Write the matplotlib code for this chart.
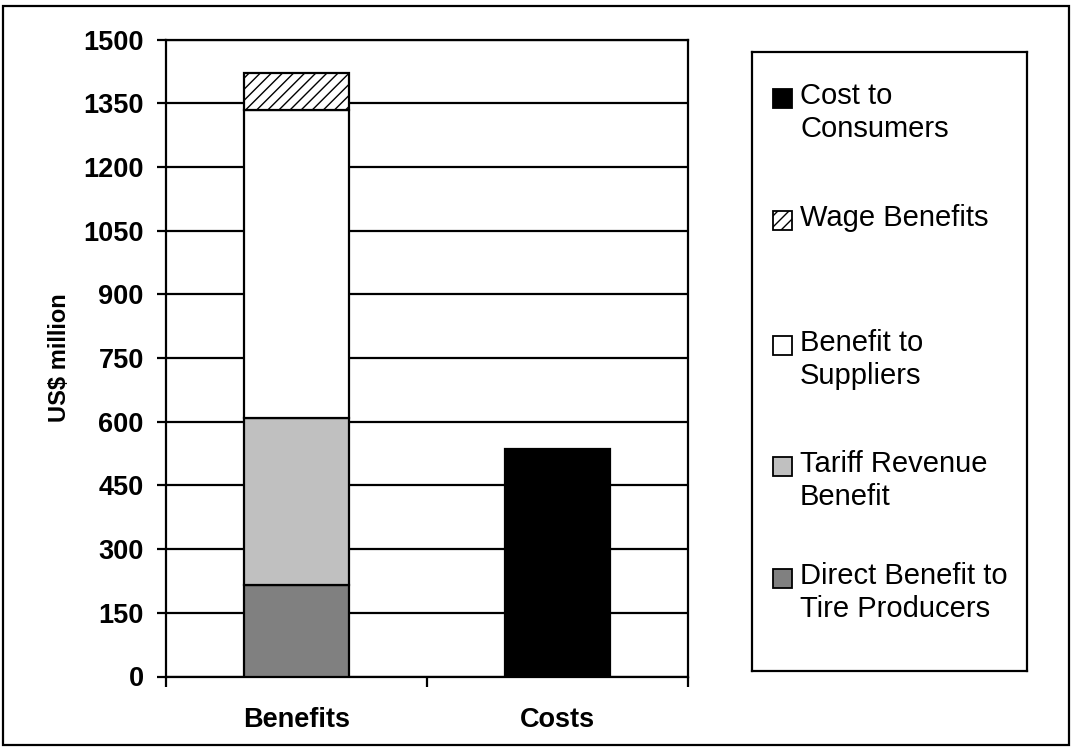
import matplotlib
matplotlib.use("Agg")
import matplotlib.pyplot as plt
from matplotlib.patches import Rectangle
import numpy as np

plt.rcParams['font.family'] = ['Liberation Sans', 'DejaVu Sans']
plt.rcParams['hatch.linewidth'] = 1.0

categories = ["Benefits", "Costs"]
# stacked series (bottom to top)
series_names = ["Direct Benefit to\nTire Producers", "Tariff Revenue\nBenefit",
                "Benefit to\nSuppliers", "Wage Benefits", "Cost to\nConsumers"]
direct_benefit = [215, 0]
tariff_revenue = [393, 0]
supplier_benefit = [726, 0]
wage_benefit = [87, 0]
cost_consumers = [0, 536]
yticks = [0, 150, 300, 450, 600, 750, 900, 1050, 1200, 1350, 1500]

fills = ["#808080", "#C0C0C0", "#FFFFFF", "#FFFFFF", "#000000"]
hatches = [None, None, None, "///", None]

W, H = 1072, 747
fig = plt.figure(figsize=(W / 100, H / 100), dpi=100)

# outer border
fig.patches.append(Rectangle((3 / W, 2 / H), (1069 - 3) / W, (742 - 3) / H,
                             transform=fig.transFigure, fill=False,
                             edgecolor='black', linewidth=1.6))

ax = fig.add_axes([166 / W, (H - 676.5) / H, 522 / W, 637 / H])
x = np.arange(len(categories))
values = [direct_benefit, tariff_revenue, supplier_benefit, wage_benefit, cost_consumers]
bottom = np.zeros(len(categories))
for vals, name, fc, ht in zip(values, series_names, fills, hatches):
    vals = np.array(vals, dtype=float)
    mask = vals > 0
    ax.bar(x[mask], vals[mask], width=0.4, bottom=bottom[mask], color=fc,
           edgecolor='black', linewidth=1.6, hatch=ht, zorder=3, label=name)
    bottom += vals

ax.set_xlim(-0.5, 1.5)
ax.set_ylim(0, 1500)
ax.set_yticks(yticks)
ax.set_yticklabels([str(t) for t in yticks], fontsize=19.5, fontweight='bold')
ax.yaxis.grid(True, color='black', linewidth=1.6, zorder=0)
ax.set_axisbelow(True)
ax.tick_params(axis='y', direction='out', length=6.5, width=1.6, pad=9.5)

ax.set_xticks([-0.5, 0.5, 1.5])
ax.set_xticklabels([])
ax.tick_params(axis='x', which='major', direction='out', length=7, width=1.6)
ax.set_xticks(x, minor=True)
ax.set_xticklabels(categories, minor=True, fontsize=19.5, fontweight='bold')
ax.tick_params(axis='x', which='minor', length=0, pad=22)

for s in ax.spines.values():
    s.set_linewidth(1.6)
    s.set_color('black')

fig.text(60 / W, (H - 358) / H, "US$ million", rotation=90, fontsize=17,
         fontweight='bold', ha='center', va='center')

# legend box
lx0, ly0, lx1, ly1 = 752, 52, 1027, 671
lax = fig.add_axes([lx0 / W, (H - ly1) / H, (lx1 - lx0) / W, (ly1 - ly0) / H])
lax.set_xlim(0, lx1 - lx0)
lax.set_ylim(ly1 - ly0, 0)
lax.set_xticks([])
lax.set_yticks([])
for s in lax.spines.values():
    s.set_linewidth(1.6)
entry_y = [46, 168, 293, 414, 526]
order = [4, 3, 2, 1, 0]
for yy, idx in zip(entry_y, order):
    lax.add_patch(Rectangle((21, yy - 9.5), 19, 19, facecolor=fills[idx],
                            edgecolor='black', linewidth=1.3,
                            hatch=hatches[idx]))
    for j, line in enumerate(series_names[idx].split("\n")):
        lax.text(48, yy + j * 33 - 2, line, fontsize=21, ha='left', va='center')

fig.savefig("out.png", dpi=100)
